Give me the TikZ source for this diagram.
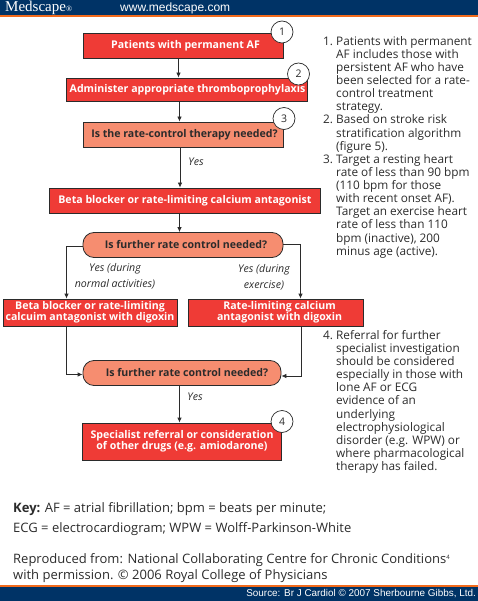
\documentclass[tikz,border=0pt]{standalone}
\usepackage{fontspec}
\setmainfont{Open Sans}
\newfontfamily\hdrserif{Liberation Serif}
\newfontfamily\hdrsans{Liberation Sans}
\usetikzlibrary{arrows.meta}
\definecolor{navy}{HTML}{003366}
\definecolor{bandor}{HTML}{F26A1B}
\definecolor{boxred}{HTML}{EF3B36}
\definecolor{boxsal}{HTML}{F68D70}
\definecolor{ink}{HTML}{2B2B2B}
\newcommand{\numlab}[1]{\makebox[13pt][l]{#1}}
\newcommand{\ind}{\hspace*{13pt}}
\tikzset{
 x=1pt,y=-1pt,
 boxbase/.style={draw=ink,line width=0.8pt,inner sep=0pt,align=center,font=\fontsize{10.6}{11}\selectfont\bfseries},
 redbox/.style={boxbase,fill=boxred,text=white},
 salbox/.style={boxbase,fill=boxsal,text=ink},
 roundbox/.style={salbox,rounded corners=11pt},
 numcirc/.style={circle,draw=ink,line width=0.7pt,fill=white,minimum size=22pt,inner sep=0pt,font=\fontsize{10.5}{11}\selectfont,text=ink},
 conn/.style={draw=ink,line width=0.8pt,-{Latex[length=5pt,width=4.5pt]}},
 note/.style={anchor=north west,inner sep=0pt,align=left,text=ink,font=\fontsize{11.8}{13.13}\selectfont},
 yeslab/.style={inner sep=0pt,align=center,text=ink,font=\fontsize{10.6}{16}\selectfont\itshape},
 foot/.style={anchor=base west,inner sep=0pt,text=ink,font=\fontsize{13}{14}\selectfont},
}
\begin{document}
\begin{tikzpicture}
\useasboundingbox (0,0) rectangle (478,601);
\fill[navy] (0,0) rectangle (478,15.5);
\fill[bandor] (0,15.5) rectangle (478,17.5);
\fill[bandor] (0,585) rectangle (478,587);
\fill[navy] (0,587) rectangle (478,601);
\node[anchor=west,inner sep=0pt,text=white,font=\hdrserif\fontsize{15}{15}\selectfont] (brand) at (5,7.5) {Medscape\raisebox{0pt}{\fontsize{8}{9}\selectfont®}};
\node[anchor=west,inner sep=0pt,text=white,font=\hdrsans\fontsize{12}{12}\selectfont] (url) at (120,8) {www.medscape.com};
\node[anchor=east,inner sep=0pt,text=white,font=\hdrsans\fontsize{9.9}{10}\selectfont] (src) at (476,594) {Source: Br J Cardiol © 2007 Sherbourne Gibbs, Ltd.};

\node[redbox,minimum width=200pt,minimum height=25pt] (b1) at (183,45.5) {\hspace*{5pt}Patients with permanent AF};
\node[redbox,minimum width=241pt,minimum height=23pt] (b2) at (186.5,89.5) {\hspace*{2pt}Administer appropriate thromboprophylaxis};
\node[salbox,minimum width=200pt,minimum height=25pt] (b3) at (183,134.5) {\hspace*{3pt}Is the rate-control therapy needed?};
\node[redbox,minimum width=271pt,minimum height=25pt] (b4) at (185,200.5) {Beta blocker or rate-limiting calcium antagonist};
\node[roundbox,minimum width=200pt,minimum height=25pt] (r1) at (183,245) {\hspace*{6pt}Is further rate control needed?};
\node[redbox,minimum width=174pt,minimum height=27pt] (bl) at (90,312.5) {Beta blocker or rate-limiting\\calcuim antagonist with digoxin};
\node[redbox,minimum width=175pt,minimum height=27pt] (br) at (275.5,312.5) {\hspace*{8pt}Rate-limiting calcium\\\hspace*{8pt}antagonist with digoxin};
\node[roundbox,minimum width=198pt,minimum height=25pt] (r2) at (182,373) {\hspace*{10pt}Is further rate control needed?};
\node[redbox,minimum width=199pt,minimum height=37pt] (b5) at (182,441.5) {Specialist referral or consideration\\of other drugs (e.g. amiodarone)};

\node[numcirc] (c1) at (282,32) {1};
\node[numcirc] (c2) at (298.5,74) {2};
\node[numcirc] (c3) at (284,118.5) {3};
\node[numcirc] (c4) at (282,421.5) {4};

\coordinate (xa) at (178.5,0);
\coordinate (xb) at (179.5,0);
\coordinate (xc) at (180,0);
\coordinate (xl) at (66.5,0);
\coordinate (xr) at (300.5,0);
\coordinate (xs) at (301.3,0);
\coordinate (ya) at (0,246);
\coordinate (yb) at (0,244.3);
\coordinate (yc) at (0,374.5);
\coordinate (yd) at (0,376);
\draw[conn] (b1.south -| xa) -- (b2.north -| xa);
\draw[conn] (b2.south -| xb) -- (b3.north -| xb);
\draw[conn] (b3.south -| xc) -- (b4.north -| xc);
\draw[conn] (b4.south -| xb) -- (r1.north -| xb);
\draw[conn] (r1.west |- ya) -- (xl |- ya) -- (bl.north -| xl);
\draw[conn] (r1.east |- yb) -- (xr |- yb) -- (br.north -| xr);
\draw[conn] (bl.south -| xl) -- (xl |- yc) -- (r2.west |- yc);
\draw[conn] (br.south -| xs) -- (xs |- yd) -- (r2.east |- yd);
\draw[conn] (r2.south -| xb) -- (b5.north -| xb);

\node[yeslab] (y1) at (196,162) {Yes};
\node[yeslab] (y2) at (115,276) {Yes (during\\normal activities)};
\node[yeslab] (y3) at (264,277) {Yes (during\\exercise)};
\node[yeslab] (y4) at (195,397) {Yes};

\node[note] (n1) at (323,36) {\numlab{1.}Patients with permanent\\\ind AF includes those with\\\ind persistent AF who have\\\ind been selected for a rate-\\\ind control treatment\\\ind strategy.\\\numlab{2.}Based on stroke risk\\\ind stratification algorithm\\\ind (figure 5).\\\numlab{3.}Target a resting heart\\\ind rate of less than 90 bpm\\\ind (110 bpm for those\\\ind with recent onset AF).\\\ind Target an exercise heart\\\ind rate of less than 110\\\ind bpm (inactive), 200\\\ind minus age (active).};
\node[note] (n2) at (323,330) {\numlab{4.}Referral for further\\\ind specialist investigation\\\ind should be considered\\\ind especially in those with\\\ind lone AF or ECG\\\ind evidence of an\\\ind underlying\\\ind electrophysiological\\\ind disorder (e.g. WPW) or\\\ind where pharmacological\\\ind therapy has failed.};

\node[foot] (k1) at (13,512) {\textbf{Key:} AF = atrial fibrillation; bpm = beats per minute;};
\node[foot] (k2) at (13,532) {ECG = electrocardiogram; WPW = Wolff-Parkinson-White};
\node[foot] (r3) at (13,563) {Reproduced from: National Collaborating Centre for Chronic Conditions\raisebox{4pt}{\fontsize{6}{6}\selectfont 4}};
\node[foot] (r4) at (13,579) {with permission. © 2006 Royal College of Physicians};
\end{tikzpicture}
\end{document}
